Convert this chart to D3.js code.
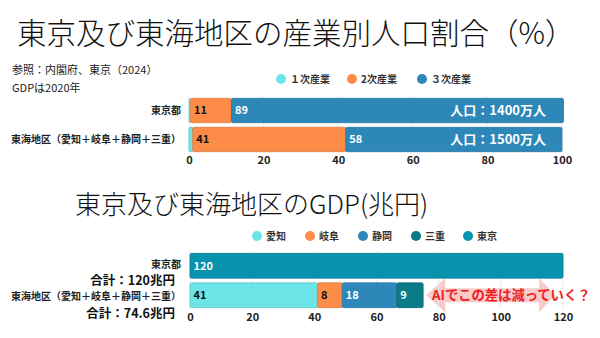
<!DOCTYPE html>
<html><head><meta charset="utf-8">
<script src="https://cdn.jsdelivr.net/npm/d3@7"></script>
<style>
html,body{margin:0;padding:0;background:#fff;}
svg{display:block;font-family:"Noto Sans CJK JP","Noto Sans",sans-serif;}
</style></head>
<body><svg id="c" width="600" height="338"></svg>
<script>
// ---- Data ----
const regions = ["東京都", "東海地区（愛知＋岐阜＋静岡＋三重）"];
const industryNames = ["１次産業", "2次産業", "３次産業"];
const primary = [0.4, 1];
const secondary = [11, 41];
const tertiary = [89, 58];
const populationLabels = ["人口：1400万人", "人口：1500万人"];
const pctTicks = [0, 20, 40, 60, 80, 100];

const prefNames = ["愛知", "岐阜", "静岡", "三重", "東京"];
const gdpTokyo = [0, 0, 0, 0, 120];
const gdpTokai = [41, 8, 17.5, 8.5, 0];
const gdpTotals = ["合計：120兆円", "合計：74.6兆円"];
const gdpTicks = [0, 20, 40, 60, 80, 100, 120];

const indColors = ["#6be5e8", "#fd8c48", "#2d88b9"];
const prefColors = ["#6be5e8", "#fd8c48", "#2d88b9", "#0b7b88", "#0792ad"];
const indText = ["#111", "#111", "#fff"];
const prefText = ["#111", "#111", "#fff", "#fff", "#fff"];

const svg = d3.select("#c");

function drawChart(opts) {
  const {x, y, rows, colors, textColors, ticks, axisY, tickPad} = opts;
  const g = svg.append("g");
  g.selectAll("line.grid").data(ticks).join("line")
    .attr("x1", d => x(d)).attr("x2", d => x(d))
    .attr("y1", y.range()[0]).attr("y2", axisY)
    .attr("stroke", "#ececec").attr("stroke-width", 1);
  rows.forEach((vals, ri) => {
    let acc = 0;
    const segs = vals.map((v, i) => { const s = {i, x0: acc, x1: acc + v, v}; acc += v; return s; }).filter(s => s.v > 0);
    const yy = y(regions[ri]);
    g.selectAll(null).data(segs).join("rect")
      .attr("x", d => x(d.x0)).attr("width", d => x(d.x1) - x(d.x0))
      .attr("y", yy).attr("height", y.bandwidth())
      .attr("rx", 1.5)
      .attr("fill", d => colors[d.i])
      .attr("stroke", d => d3.color(colors[d.i]).darker(0.35))
      .attr("stroke-width", 0.8);
    g.selectAll(null).data(segs.filter(d => d.v >= 3)).join("text")
      .attr("x", d => x(d.x0) + 3.5).attr("y", yy + y.bandwidth() / 2)
      .attr("dy", "0.36em")
      .attr("font-size", 11).attr("font-weight", 700)
      .attr("fill", d => textColors[d.i])
      .text(d => Math.round(d.v));
  });
  g.selectAll(null).data(regions).join("text")
    .attr("x", 181).attr("y", (d, i) => y(d) + y.bandwidth() / 2 + (opts.labelShift ? opts.labelShift[i] : 0))
    .attr("dy", "0.36em").attr("text-anchor", "end")
    .attr("font-size", 10).attr("font-weight", 700).attr("fill", "#222")
    .text(d => d);
  const ax = g.append("g").attr("transform", `translate(0,${axisY})`)
    .call(d3.axisBottom(x).tickValues(ticks).tickSize(0).tickPadding(tickPad));
  ax.select(".domain").remove();
  ax.selectAll("text").attr("font-size", 11).attr("font-weight", 700).attr("fill", "#222")
    .attr("font-family", "'Noto Sans CJK JP','Noto Sans',sans-serif");
  return g;
}

function legend(items, colors, xs, cy) {
  const lg = svg.append("g");
  items.forEach((t, i) => {
    lg.append("circle").attr("cx", xs[i]).attr("cy", cy).attr("r", 5).attr("fill", colors[i]);
    lg.append("text").attr("x", xs[i] + 9).attr("y", cy).attr("dy", "0.36em")
      .attr("font-size", 10).attr("font-weight", 700).attr("fill", "#333").text(t);
  });
}

// ---- Titles ----
svg.append("text").attr("x", 17).attr("y", 33).attr("dy", "0.36em")
  .attr("font-size", 29.5).attr("font-weight", 300).attr("fill", "#111")
  .text("東京及び東海地区の産業別人口割合（%）");
svg.append("text").attr("x", 12).attr("y", 70).attr("dy", "0.36em")
  .attr("font-size", 11).attr("fill", "#222").text("参照：内閣府、東京（2024）");
svg.append("text").attr("x", 12).attr("y", 88).attr("dy", "0.36em")
  .attr("font-size", 11).attr("fill", "#222").text("GDPは2020年");

// ---- Chart 1 ----
const x1 = d3.scaleLinear().domain([0, 100]).range([189, 562]);
const y1 = d3.scaleBand().domain(regions).range([96, 154]).paddingInner(0.16).paddingOuter(0.08);
legend(industryNames, indColors, [281, 352, 422], 79);
const rows1 = regions.map((r, i) => [primary[i], secondary[i], tertiary[i]]);
const c1 = drawChart({x: x1, y: y1, rows: rows1, colors: indColors, textColors: indText, ticks: pctTicks, axisY: 152, tickPad: 4});
c1.selectAll(null).data(regions).join("text")
  .attr("x", 546).attr("y", d => y1(d) + y1.bandwidth() / 2).attr("dy", "0.36em")
  .attr("text-anchor", "end").attr("font-size", 13).attr("font-weight", 700).attr("fill", "#fff")
  .text((d, i) => populationLabels[i]);

// ---- Chart 2 ----
svg.append("text").attr("x", 75).attr("y", 205).attr("dy", "0.36em")
  .attr("font-size", 26).attr("font-weight", 300).attr("fill", "#111")
  .text("東京及び東海地区のGDP(兆円)");
const x2 = d3.scaleLinear().domain([0, 120]).range([190, 563]);
const y2 = d3.scaleBand().domain(regions).range([251, 310]).paddingInner(0.16).paddingOuter(0.08);
legend(prefNames, prefColors, [257, 310, 363, 416, 468], 236);

const ay = y2(regions[1]) + y2.bandwidth() / 2;
const aL = x2(76), aR = x2(117.5), hb = 19, hh = 17, sh = 7;
svg.append("path")
  .attr("d", `M${aL},${ay} L${aL + hb},${ay - hh} L${aL + hb},${ay - sh} L${aR - hb + 3},${ay - sh} L${aR - hb + 3},${ay - hh} L${aR},${ay} L${aR - hb + 3},${ay + hh} L${aR - hb + 3},${ay + sh} L${aL + hb},${ay + sh} L${aL + hb},${ay + hh} Z`)
  .attr("fill", "#f2a0a0").attr("fill-opacity", 0.55);

const rows2 = [gdpTokyo, gdpTokai];
drawChart({x: x2, y: y2, rows: rows2, colors: prefColors, textColors: prefText, ticks: gdpTicks, axisY: 308, tickPad: 5, labelShift: [-1.5, 1]});
svg.append("text").attr("x", 432).attr("y", ay).attr("dy", "0.36em")
  .attr("font-size", 13.3).attr("font-weight", 700).attr("fill", "#f01e1e")
  .text("AIでこの差は減っていく？");
svg.selectAll(null).data(gdpTotals).join("text")
  .attr("x", 175).attr("y", (d, i) => [280, 313][i]).attr("dy", "0.36em")
  .attr("text-anchor", "end").attr("font-size", 12.5).attr("font-weight", 700).attr("fill", "#111")
  .text(d => d);
</script></body></html>
